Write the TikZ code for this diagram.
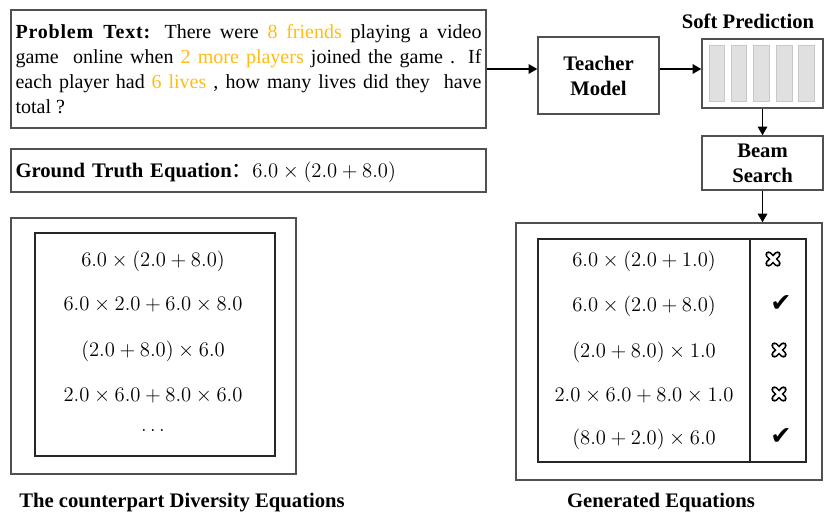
\RequirePackage{fix-cm}
\documentclass[tikz,border=0pt]{standalone}
\usepackage[no-math]{fontspec}
\setmainfont{Liberation Serif}
\newfontfamily\cjk{Noto Sans CJK SC}
\newfontfamily\symfont{DejaVu Sans}
\usetikzlibrary{arrows.meta}
\definecolor{hl}{RGB}{255,189,20}
\definecolor{edge}{RGB}{80,80,80}
\definecolor{barfill}{RGB}{224,224,224}
\definecolor{barline}{RGB}{200,200,200}
\begin{document}
\begin{tikzpicture}[x=0.75pt,y=-0.75pt,
  box/.style={draw=edge, line width=1pt, inner sep=0pt},
  ibox/.style={draw=black!85, line width=0.9pt, inner sep=0pt},
  lbl/.style={font=\fontsize{15.5}{18.75}\selectfont\bfseries, align=center, inner sep=0pt},
  eq/.style={font=\fontsize{15.5}{18}\selectfont, inner sep=0pt},
  arr/.style={-{Triangle[length=6.5pt,width=7pt]}, line width=1.4pt},
  bar/.style={fill=barfill, draw=barline, line width=0.6pt},
  okmark/.style={font=\fontsize{19}{20}\symfont, inner sep=0pt},
  xmark/.pic={
    \draw[line width=4.8pt, line cap=round] (-4.5,-4.5)--(4.5,4.5) (-4.5,4.5)--(4.5,-4.5);
    \draw[white, line width=2.4pt, line cap=round] (-4.5,-4.5)--(4.5,4.5) (-4.5,4.5)--(4.5,-4.5);
  }]
\useasboundingbox (0,0) rectangle (834,524);

% problem text
\node[box, minimum width=356.25pt, minimum height=88.5pt, text width=349.5pt,
      align=justify, font=\fontsize{15}{18.75}\selectfont] (problem) at (248.5,69)
 {{\bfseries\addfontfeature{LetterSpace=4}Problem Text:} There were \textcolor{hl}{8 friends} playing a video\linebreak
  game~ online when \textcolor{hl}{2 more players} joined the game . If\linebreak
  each player had \textcolor{hl}{6 lives} , how many lives did they~ have\linebreak
  total ?};

% ground truth
\node[box, minimum width=356.25pt, minimum height=32.25pt, text width=349.5pt,
      text height=13.5pt, text depth=3pt,
      align=left, font=\fontsize{15.5}{18.75}\selectfont] (truth) at (248.5,170.5)
 {{\bfseries Ground Truth Equation}{\cjk ：}$6.0\times(2.0+8.0)$};

% teacher model
\node[box, lbl, minimum width=90.75pt, minimum height=57.75pt] (teacher) at (598.5,75.5) {Teacher\\Model};

% soft prediction
\node[box, minimum width=90.75pt, minimum height=51.75pt] (soft) at (762.5,73.5) {};
\foreach \a/\b in {709/724,731/746,753/769,776/792,798/814}
  \draw[bar] (\a,45) rectangle (\b,101);
\node[lbl] (softlbl) at (748,21) {Soft Prediction};

% beam search
\node[box, lbl, minimum width=90.75pt, minimum height=40.5pt] (beam) at (762.5,163) {Beam\\Search};

% generated equations
\node[box, minimum width=229.5pt, minimum height=192.75pt] (gen) at (669,351.5) {};
\node[ibox, minimum width=201pt, minimum height=167.25pt] (gtab) at (672,350.5) {};
\coordinate (divtop) at (750,239);
\draw[draw=black!85, line width=0.9pt] (divtop) -- (divtop |- gtab.south);
\node[eq] (g1) at (644,261) {$6.0\times(2.0+1.0)$};
\node[eq] (g2) at (644,306) {$6.0\times(2.0+8.0)$};
\node[eq] (g3) at (644,352) {$(2.0+8.0)\times1.0$};
\node[eq] (g4) at (644,396) {$2.0\times6.0+8.0\times1.0$};
\node[eq] (g5) at (644,439) {$(8.0+2.0)\times6.0$};
\pic at (773,259) {xmark};
\node[okmark] (c2) at (781,304) {✔};
\pic at (779,350) {xmark};
\pic at (779,394) {xmark};
\node[okmark] (c5) at (781,437) {✔};
\node[lbl] (genlbl) at (661,503) {Generated Equations};

% counterpart diversity equations
\node[box, minimum width=213.75pt, minimum height=192pt] (dvo) at (153.5,346) {};
\node[ibox, minimum width=180pt, minimum height=167.25pt] (dtab) at (155,344.5) {};
\node[eq] (d1) at (153,261) {$6.0\times(2.0+8.0)$};
\node[eq] (d2) at (153,305) {$6.0\times2.0+6.0\times8.0$};
\node[eq] (d3) at (153,351) {$(2.0+8.0)\times6.0$};
\node[eq] (d4) at (153,396) {$2.0\times6.0+8.0\times6.0$};
\node[eq] (d5) at (153,430) {$\ldots$};
\node[lbl] (dvlbl) at (182,503) {The counterpart Diversity Equations};

% connectors
\draw[arr] (problem.east) -- (problem.east -| teacher.west);
\draw[arr] (teacher.east |- problem.east) -- (soft.west |- problem.east);
\draw[arr] (soft.south) -- (beam.north);
\draw[arr] (beam.south) -- (beam.south |- gen.north);
\end{tikzpicture}
\end{document}
